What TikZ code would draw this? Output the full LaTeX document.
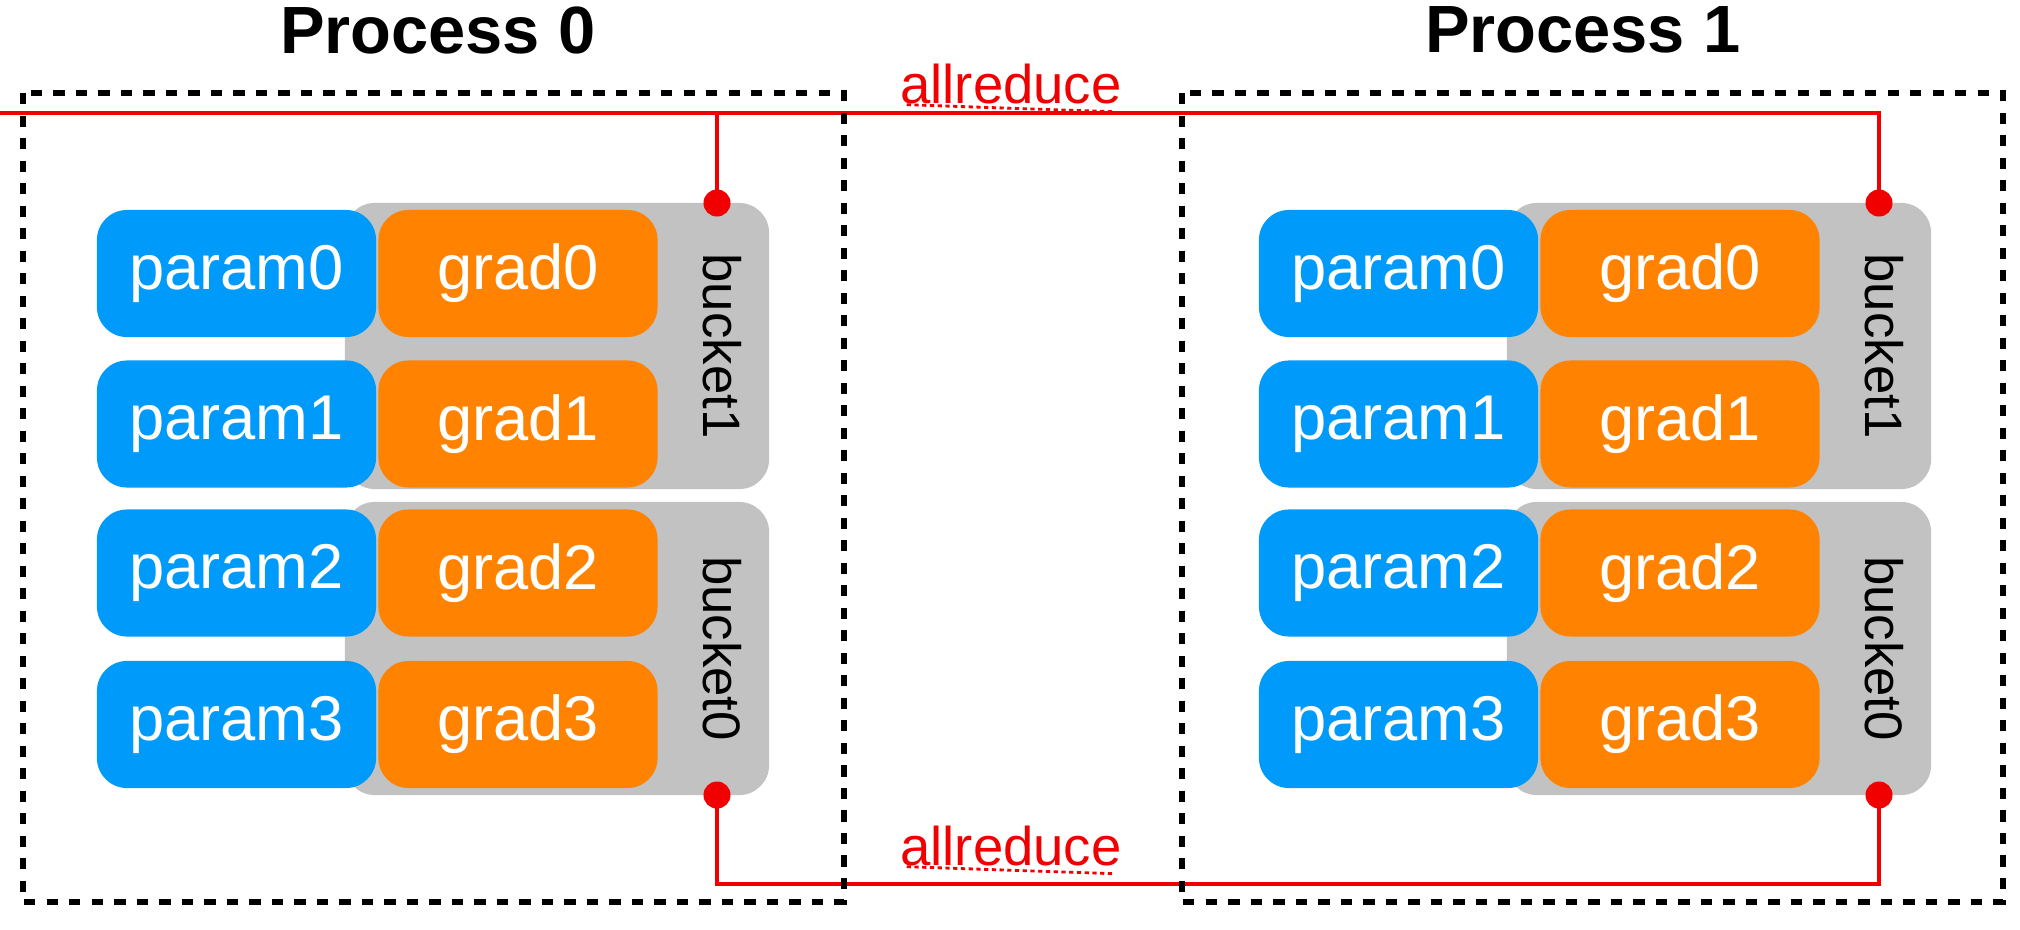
\documentclass[tikz,border=0pt]{standalone}
\usepackage{fontspec}
\setmainfont{Liberation Sans}
\begin{document}
\begin{tikzpicture}[x=0.01cm,y=-0.01cm,
  param/.style={fill=pblue,draw=none,rounded corners=0.3cm,minimum width=2.79cm,minimum height=1.27cm,text=white,font=\fontsize{18}{20}\selectfont,inner sep=0pt},
  grad/.style={param,fill=gorange},
  bucket/.style={fill=bgray,draw=none,rounded corners=0.3cm,minimum width=4.24cm,inner sep=0pt},
  pbox/.style={draw=black,line width=1.5pt,dash pattern=on 3.2pt off 3.2pt},
  title/.style={font=\fontsize{19}{22}\selectfont\bfseries},
  red/.style={draw=lred,line width=1.4pt},
  dot/.style={circle,fill=lred,inner sep=0pt,minimum size=0.27cm},
  lab/.style={text=lred,font=\fontsize{15.5}{18}\selectfont,inner sep=1pt}]
\definecolor{pblue}{RGB}{0,155,250}
\definecolor{gorange}{RGB}{255,130,0}
\definecolor{bgray}{RGB}{194,194,194}
\definecolor{lred}{RGB}{240,0,0}
\useasboundingbox (0,0) rectangle (2020,930);
\foreach \i/\dx in {0/0,1/1162}{
  \begin{scope}[xshift=\dx*0.01cm]
  \node[bucket,minimum height=2.86cm] (b1\i) at (557,346) {};
  \node[bucket,minimum height=2.93cm] (b0\i) at (557,648.5) {};
  \node[rotate=-90,font=\fontsize{15}{18}\selectfont] at (722,346) {bucket1};
  \node[rotate=-90,font=\fontsize{15}{18}\selectfont] at (722,648.5) {bucket0};
  \foreach \r/\y in {0/273.5,1/424,2/573,3/724.5}{
    \node[param] (p\r\i) at (236.5,\y) {param\r};
    \node[grad] (g\r\i) at (518,\y) {grad\r};
  }
  \node[dot] (dt\i) at (717,203) {};
  \node[dot] (db\i) at (717,795) {};
  \end{scope}
}
\node[title] (t0) at (438,30) {Process 0};
\node[title] (t1) at (1583,30) {Process 1};
\node[lab] (l0) at (1011,84) {allreduce};
\node[lab] (l1) at (1011,846) {allreduce};
\draw[lred,line width=0.8pt,dash pattern=on 1.2pt off 1pt] (l0.south west)++(3pt,1pt) -- ([xshift=-3pt,yshift=-1pt]l0.south east);
\draw[lred,line width=0.8pt,dash pattern=on 1.2pt off 1pt] (l1.south west)++(3pt,1pt) -- ([xshift=-3pt,yshift=-1pt]l1.south east);
\draw[red] (dt0.center) |- (0,113) -| (dt1.center);
\draw[red] (dt0.center) -- (717,113) -- (1879,113) -- (dt1.center);
\draw[red] (db0.center) -- (717,884) -- (1879,884) -- (db1.center);
\draw[pbox] (23,93) rectangle (844,902);
\draw[pbox] (1182,93) rectangle (2003,902);
\end{tikzpicture}
\end{document}
